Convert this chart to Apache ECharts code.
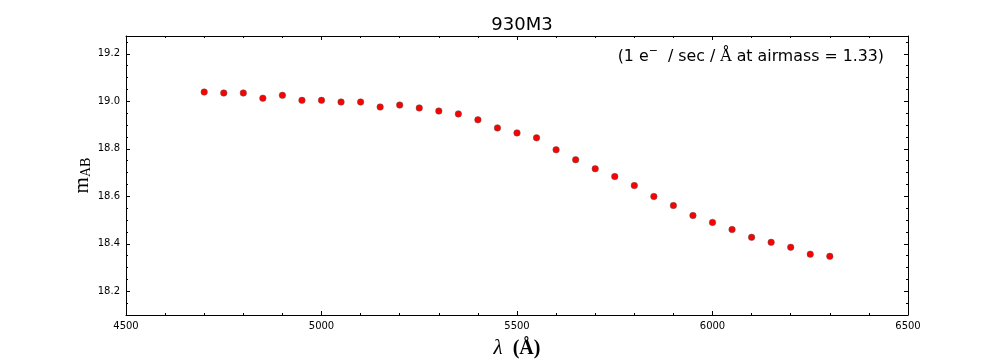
<!DOCTYPE html>
<html><head><meta charset="utf-8">
<script src="https://cdn.jsdelivr.net/npm/echarts@6/dist/echarts.min.js"></script>
<style>html,body{margin:0;padding:0;background:#fff}#c{width:1008px;height:360px}</style>
</head><body><div id="c"></div>
<script>
const wavelengths = [4700,4750,4800,4850,4900,4950,5000,5050,5100,5150,5200,5250,5300,5350,5400,5450,5500,5550,5600,5650,5700,5750,5800,5850,5900,5950,6000,6050,6100,6150,6200,6250,6300];
const magnitudes = [19.039,19.035,19.035,19.013,19.025,19.004,19.004,18.997,18.997,18.976,18.984,18.972,18.959,18.947,18.922,18.888,18.867,18.846,18.796,18.754,18.716,18.683,18.645,18.599,18.561,18.519,18.490,18.460,18.427,18.406,18.385,18.356,18.347];
const yMajorTicks = [18.2,18.4,18.6,18.8,19.0,19.2];
const yMinorTicks = [18.1,18.15,18.2,18.25,18.3,18.35,18.4,18.45,18.5,18.55,18.6,18.65,18.7,18.75,18.8,18.85,18.9,18.95,19.0,19.05,19.1,19.15,19.2,19.25];
const titleText = '930M3';

const chart = echarts.init(document.getElementById('c'));
const font = 'DejaVu Sans';
const serif = 'Liberation Serif';
const baseX = {
  type:'value', min:4500, max:6500, interval:500,
  axisLine:{show:true, onZero:false, lineStyle:{color:'#000', width:1}},
  axisTick:{show:true, inside:true, length:4, lineStyle:{color:'#000'}},
  minorTick:{show:true, splitNumber:5, length:2, lineStyle:{color:'#000'}},
  splitLine:{show:false}, minorSplitLine:{show:false}
};
function yAx(pos, vals, len, labels, line){
  return {
    type:'value', position:pos, min:18.1, max:19.275,
    axisLine:{show:line, onZero:false, lineStyle:{color:'#000', width:1}},
    axisTick:{show:true, inside:true, length:len, customValues:vals, lineStyle:{color:'#000'}},
    axisLabel:{show:labels, customValues:vals, color:'#000', fontFamily:font, fontSize:10, margin:6,
      formatter:v=>v.toFixed(1)},
    splitLine:{show:false}
  };
}
chart.setOption({
  animation:false,
  backgroundColor:'#fff',
  title:{text:titleText, left:517, top:11, textAlign:'center',
    textStyle:{fontFamily:font, fontSize:18, fontWeight:'normal', color:'#000'}},
  grid:{left:126, top:36, right:100, bottom:45, containLabel:false, outerBoundsMode:'none'},
  xAxis:[
    Object.assign({}, baseX, {position:'bottom',
      axisLabel:{color:'#000', fontFamily:font, fontSize:10, margin:6, formatter:v=>String(v)},
      name:'{a|λ}   {b|(Å)}', nameLocation:'middle', nameGap:23,
      nameTextStyle:{rich:{
        a:{fontFamily:serif, fontStyle:'italic', fontSize:21, color:'#000'},
        b:{fontFamily:serif, fontWeight:'bold', fontSize:20, color:'#000'}}}}),
    Object.assign({}, baseX, {position:'top', axisLabel:{show:false}})
  ],
  yAxis:[
    Object.assign(yAx('left', yMajorTicks, 4, true, true), {
      name:'{a|m}{b|AB}', nameLocation:'middle', nameGap:33, nameRotate:90, nameMoveOverlap:false,
      nameTextStyle:{rich:{
        a:{fontFamily:serif, fontSize:21, color:'#000'},
        b:{fontFamily:serif, fontSize:14, color:'#000', padding:[7,0,0,0]}}}}),
    yAx('left', yMinorTicks, 2, false, false),
    yAx('right', yMajorTicks, 4, false, true),
    yAx('right', yMinorTicks, 2, false, false)
  ],
  graphic:[{
    type:'text', right:124, top:46,
    style:{
      text:'{t|(1 e}{s|−}{t|  / sec / }{r|Å}{t| at airmass = 1.33)}',
      rich:{
        t:{fontFamily:font, fontSize:15.8, fill:'#000'},
        s:{fontFamily:font, fontSize:11, fill:'#000', padding:[0,0,10,0]},
        r:{fontFamily:'DejaVu Serif', fontSize:15.8, fill:'#000'}
      }
    }
  }],
  series:[{
    type:'scatter', xAxisIndex:0, yAxisIndex:0,
    data: wavelengths.map((w,i)=>[w, magnitudes[i]]),
    symbol:'circle', symbolSize:6.5,
    itemStyle:{color:'#ff0000', borderColor:'#555', borderWidth:0.5, opacity:1}
  }]
});
</script></body></html>
